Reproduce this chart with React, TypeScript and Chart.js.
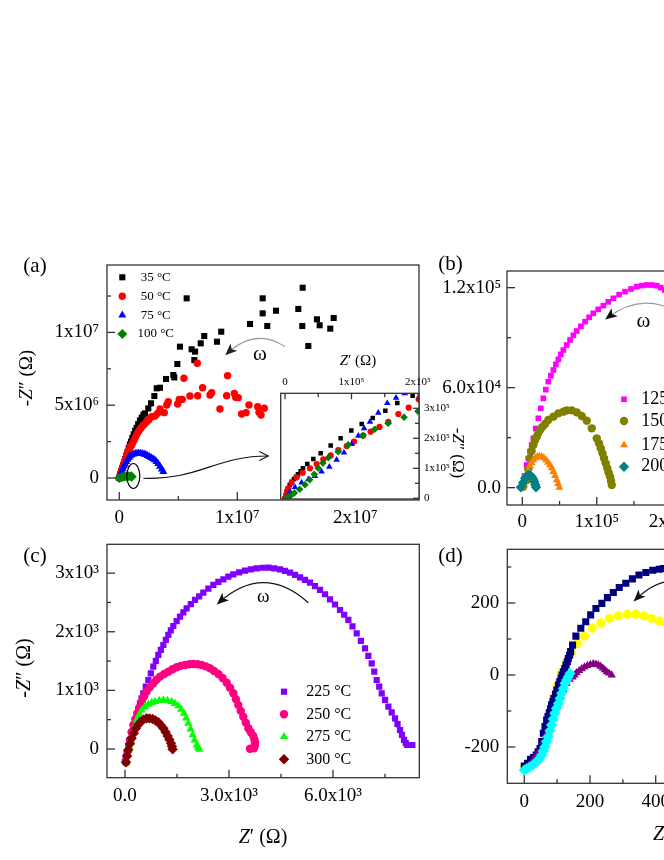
import { useEffect, useRef } from "react";
import { Chart, registerables } from "chart.js";
import { drawPoint } from "chart.js/helpers";

Chart.register(...registerables);

type P = [number, number];
const FONT = '"Liberation Serif", "Times New Roman", serif';

// ---------- (a) main plot, Ω ----------
const a35: P[] = [[0, 0], [0.05e6, 0.15e6], [0.1e6, 0.3e6], [0.18e6, 0.5e6], [0.25e6, 0.7e6], [0.33e6, 0.9e6], [0.42e6, 1.1e6], [0.5e6, 1.3e6], [0.6e6, 1.55e6], [0.7e6, 1.8e6], [0.8e6, 2.05e6], [0.9e6, 2.3e6], [1.0e6, 2.5e6], [1.1e6, 2.75e6], [1.22e6, 3.0e6], [1.35e6, 3.25e6], [1.47e6, 3.45e6], [1.6e6, 3.7e6], [1.75e6, 3.95e6], [1.9e6, 4.15e6], [2.05e6, 4.35e6], [2.18e6, 4.44e6], [2.46e6, 4.78e6], [2.69e6, 5.13e6], [2.97e6, 5.63e6], [3.17e6, 6.16e6], [3.45e6, 6.2e6], [3.96e6, 6.8e6], [4.58e6, 7.07e6], [4.66e6, 6.91e6], [4.92e6, 7.83e6], [5.14e6, 9.02e6], [5.71e6, 12.34e6], [6.13e6, 8.84e6], [6.42e6, 8.68e6], [6.36e6, 8.1e6], [6.9e6, 9.25e6], [7.2e6, 9.75e6], [8.28e6, 9.36e6], [8.64e6, 10.05e6], [11.08e6, 10.58e6], [12.15e6, 12.34e6], [12.15e6, 11.31e6], [12.54e6, 10.44e6], [13.28e6, 11.49e6], [15.17e6, 11.61e6], [15.54e6, 13.07e6], [15.51e6, 10.44e6], [16.02e6, 9.07e6], [16.75e6, 10.9e6], [16.98e6, 10.49e6], [17.88e6, 10.26e6], [18.17e6, 10.99e6]];
const a50: P[] = [[0, 0], [0.05e6, 0.12e6], [0.12e6, 0.3e6], [0.2e6, 0.5e6], [0.28e6, 0.7e6], [0.36e6, 0.9e6], [0.45e6, 1.1e6], [0.55e6, 1.35e6], [0.65e6, 1.6e6], [0.75e6, 1.8e6], [0.85e6, 2.0e6], [0.95e6, 2.15e6], [1.05e6, 2.27e6], [1.15e6, 2.45e6], [1.28e6, 2.65e6], [1.4e6, 2.85e6], [1.52e6, 3.05e6], [1.65e6, 3.22e6], [1.8e6, 3.4e6], [1.95e6, 3.55e6], [2.1e6, 3.68e6], [2.3e6, 3.85e6], [2.5e6, 4.0e6], [2.74e6, 4.21e6], [3.03e6, 4.26e6], [3.25e6, 4.44e6], [3.45e6, 4.74e6], [3.81e6, 4.49e6], [4.02e6, 5.01e6], [4.15e6, 5.24e6], [4.95e6, 5.08e6], [5.08e6, 5.4e6], [5.34e6, 5.4e6], [5.48e6, 6.85e6], [5.99e6, 5.63e6], [6.61e6, 7.88e6], [6.64e6, 5.65e6], [7.06e6, 6.2e6], [7.69e6, 5.7e6], [7.83e6, 5.86e6], [8.53e6, 4.74e6], [9.1e6, 5.65e6], [9.18e6, 7.03e6], [9.75e6, 5.81e6], [9.86e6, 5.54e6], [10.08e6, 5.52e6], [10.37e6, 4.4e6], [10.74e6, 4.49e6], [10.99e6, 5.01e6], [11.73e6, 4.9e6], [11.84e6, 4.51e6], [12.01e6, 4.33e6], [12.29e6, 4.79e6]];
const a75: P[] = [[0, 0], [0.1e6, 0.2e6], [0.2e6, 0.45e6], [0.3e6, 0.65e6], [0.4e6, 0.82e6], [0.5e6, 0.95e6], [0.6e6, 1.12e6], [0.7e6, 1.28e6], [0.8e6, 1.4e6], [0.91e6, 1.5e6], [1.05e6, 1.58e6], [1.2e6, 1.64e6], [1.35e6, 1.68e6], [1.5e6, 1.7e6], [1.65e6, 1.71e6], [1.8e6, 1.7e6], [1.95e6, 1.68e6], [2.1e6, 1.64e6], [2.25e6, 1.6e6], [2.4e6, 1.54e6], [2.55e6, 1.47e6], [2.7e6, 1.4e6], [2.85e6, 1.32e6], [3.0e6, 1.24e6], [3.15e6, 1.12e6], [3.3e6, 0.98e6], [3.45e6, 0.8e6], [3.6e6, 0.6e6], [3.73e6, 0.44e6]];
const a100: P[] = [[0, 0], [0.2e6, 0.05e6], [0.4e6, 0.08e6], [0.6e6, 0.1e6], [0.8e6, 0.12e6], [1.0e6, 0.12e6], [1.05e6, 0.09e6]];

// ---------- (a) inset, Ω ----------
const i35: P[] = [[0, 0], [1e3, 10e3], [2e3, 22e3], [4e3, 33e3], [7e3, 44e3], [10e3, 55e3], [13.5e3, 64e3], [16.5e3, 72e3], [19.5e3, 80e3], [23.6e3, 90e3], [27e3, 100e3], [33.5e3, 114e3], [42.6e3, 131e3], [53.6e3, 150e3], [68.7e3, 176e3], [83.7e3, 200e3], [99.7e3, 226e3], [115.3e3, 248e3], [131.9e3, 268e3], [150.9e3, 292e3], [168.9e3, 318e3], [192e3, 342e3], [205e3, 352e3]];
const i50: P[] = [[0, 0], [1.5e3, 5e3], [3e3, 20e3], [5e3, 33e3], [10e3, 52e3], [17.6e3, 70e3], [26.6e3, 85e3], [37.6e3, 100e3], [47.6e3, 114e3], [57.6e3, 130e3], [68.7e3, 143e3], [80.2e3, 161e3], [92.8e3, 174e3], [103.8e3, 189e3], [117.8e3, 209e3], [128.8e3, 222e3], [142e3, 238e3], [155.4e3, 255e3], [170.4e3, 281e3], [186e3, 302e3], [201e3, 330e3]];
const i75: P[] = [[2.5e3, 3e3], [7.5e3, 22e3], [15e3, 37e3], [25e3, 52e3], [35e3, 63e3], [45e3, 74e3], [55e3, 89e3], [66.7e3, 105e3], [77.7e3, 128e3], [88.7e3, 152e3], [100.3e3, 181e3], [110.3e3, 208e3], [119e3, 233e3], [127.8e3, 255e3], [140.3e3, 285e3], [153.8e3, 317e3], [167e3, 335e3], [180e3, 350e3]];
const i100: P[] = [[3e3, 2e3], [8e3, 8e3], [14e3, 18e3], [22e3, 30e3], [30e3, 45e3], [37e3, 62e3], [44e3, 80e3], [50e3, 100e3], [57e3, 118e3], [65e3, 135e3], [80e3, 155e3], [95e3, 178e3], [117e3, 209e3], [135e3, 230e3], [155e3, 250e3], [179e3, 270e3], [200e3, 290e3]];

// ---------- (b), Ω ----------
const b125: P[] = [[0, 0], [3e3, 7e3], [5.9e3, 13.6e3], [8e3, 17.5e3], [10.3e3, 21.6e3], [12.5e3, 25.6e3], [14.8e3, 29.6e3], [18e3, 35.5e3], [21.5e3, 41.6e3], [24.8e3, 47.6e3], [28.2e3, 53.6e3], [31.5e3, 58.8e3], [34.9e3, 63.6e3], [38.3e3, 67.2e3], [41.7e3, 70.6e3], [45e3, 74e3], [48.4e3, 77e3], [51.7e3, 80e3], [55.1e3, 82.6e3], [59.6e3, 85.6e3], [64.1e3, 88.6e3], [68.6e3, 91.4e3], [73.1e3, 94e3], [78.7e3, 96.8e3], [84.3e3, 99.6e3], [89.8e3, 102.2e3], [95.4e3, 104.6e3], [102e3, 107e3], [108.9e3, 109.2e3], [115.5e3, 111.5e3], [122.3e3, 113.6e3], [130e3, 115.8e3], [138e3, 117.6e3], [146e3, 119.2e3], [153.8e3, 120.6e3], [160.5e3, 121.2e3], [167.2e3, 121.6e3], [174e3, 121.6e3], [180.6e3, 121.2e3], [186e3, 120e3], [191.5e3, 118.6e3], [197e3, 117e3], [202e3, 115e3]];
const b150: P[] = [[1.3e3, 0.6e3], [5.9e3, 4.6e3], [8e3, 11e3], [10.3e3, 17.6e3], [12.5e3, 22e3], [14.8e3, 25.6e3], [17e3, 28.5e3], [19.4e3, 30.6e3], [21.5e3, 32.8e3], [23.8e3, 34.6e3], [27e3, 36.5e3], [30.5e3, 38.2e3], [34.9e3, 40.6e3], [41.7e3, 42.6e3], [48.4e3, 44.6e3], [55.1e3, 45.6e3], [59.7e3, 46.4e3], [66.4e3, 46.4e3], [73.1e3, 45.2e3], [79.8e3, 43e3], [86.6e3, 40.2e3], [93.3e3, 35.6e3], [100e3, 29.6e3], [103e3, 26.6e3], [105.4e3, 23.6e3], [107.7e3, 20.6e3], [109.8e3, 17.6e3], [112e3, 14.6e3], [114.2e3, 11.6e3], [116e3, 9e3], [117.9e3, 6.6e3], [119.2e3, 4e3], [120.2e3, 1.6e3]];
const b175: P[] = [[1.3e3, 0.2e3], [3.5e3, 3.5e3], [5.9e3, 6.6e3], [8e3, 10e3], [10.3e3, 13e3], [12.5e3, 15e3], [14.8e3, 16.6e3], [17.5e3, 17.8e3], [20.2e3, 18.6e3], [23e3, 18.8e3], [26.1e3, 18.6e3], [29e3, 17.8e3], [31.9e3, 16.6e3], [34.5e3, 15.2e3], [37.2e3, 13.6e3], [39.5e3, 11.8e3], [41.7e3, 9.6e3], [44e3, 7.2e3], [46.2e3, 4.6e3], [48e3, 2.4e3], [49.7e3, 0.2e3]];
const b200: P[] = [[-2e3, 0.2e3], [1e3, 3e3], [3.6e3, 5.6e3], [5.8e3, 7e3], [8.1e3, 7.6e3], [10.3e3, 7.4e3], [12.6e3, 6.6e3], [14.5e3, 5.2e3], [16.1e3, 3.6e3], [17.5e3, 1.8e3], [18.4e3, 0.2e3]];

// ---------- (c), Ω ----------
const c225: P[] = [[0, -217], [25, -140], [48, -74], [95, 40], [144, 154], [190, 268], [240, 381], [290, 480], [337, 580], [385, 680], [433, 780], [480, 865], [529, 950], [600, 1065], [673, 1177], [745, 1290], [817, 1404], [890, 1505], [962, 1604], [1034, 1690], [1106, 1774], [1178, 1860], [1250, 1945], [1322, 2022], [1394, 2098], [1490, 2180], [1587, 2257], [1683, 2330], [1779, 2400], [1900, 2472], [2020, 2542], [2140, 2605], [2260, 2667], [2405, 2735], [2549, 2798], [2693, 2850], [2837, 2895], [2981, 2940], [3125, 2980], [3294, 3013], [3462, 3042], [3630, 3065], [3798, 3083], [3966, 3092], [4135, 3093], [4303, 3082], [4471, 3066], [4615, 3040], [4760, 3008], [4905, 2970], [5049, 2929], [5193, 2885], [5337, 2837], [5481, 2778], [5626, 2713], [5770, 2640], [5914, 2554], [6058, 2465], [6203, 2371], [6323, 2290], [6443, 2201], [6563, 2090], [6684, 1974], [6804, 1846], [6924, 1718], [7020, 1590], [7117, 1462], [7190, 1320], [7261, 1177], [7334, 1063], [7406, 950], [7502, 836], [7598, 722], [7694, 623], [7790, 524], [7862, 424], [7934, 324], [7990, 240], [8049, 154], [8100, 100], [8145, 68], [8217, 68], [8289, 68]];
const c250: P[] = [[29, -227], [80, -40], [144, 154], [190, 290], [240, 409], [300, 510], [356, 609], [420, 710], [481, 807], [550, 895], [626, 978], [720, 1055], [817, 1121], [910, 1180], [1010, 1234], [1130, 1280], [1250, 1319], [1370, 1360], [1491, 1394], [1610, 1418], [1731, 1433], [1850, 1445], [1971, 1450], [2090, 1445], [2212, 1433], [2330, 1410], [2452, 1377], [2570, 1332], [2693, 1280], [2815, 1210], [2934, 1131], [3030, 1045], [3125, 950], [3200, 850], [3269, 751], [3340, 650], [3413, 551], [3485, 450], [3558, 353], [3630, 285], [3702, 222], [3735, 160], [3750, 108], [3745, 55], [3721, 12], [3606, 5]];
const c275: P[] = [[29, -227], [70, -100], [125, 39], [170, 150], [221, 268], [280, 385], [337, 495], [410, 585], [481, 665], [570, 720], [673, 762], [770, 790], [865, 807], [985, 825], [1106, 836], [1226, 828], [1346, 807], [1440, 775], [1539, 734], [1620, 675], [1702, 609], [1765, 525], [1827, 438], [1890, 340], [1952, 239], [2010, 150], [2068, 68], [2110, 25], [2144, -5]];
const c300: P[] = [[29, -227], [60, -120], [96, -17], [144, 90], [192, 183], [255, 270], [317, 353], [385, 415], [452, 466], [540, 505], [626, 524], [712, 522], [798, 512], [880, 487], [962, 455], [1034, 405], [1106, 353], [1170, 290], [1231, 222], [1280, 160], [1327, 97], [1355, 45], [1375, -5]];

// ---------- (d), Ω ----------
const dNavy: P[] = [[0, -253], [10, -245], [19, -234], [28, -229], [36, -222], [42, -213], [48, -204], [53, -185], [58, -162], [63, -143], [68, -125], [72, -115], [76, -105], [80, -94], [83, -83], [87, -74], [90, -65], [95, -53], [99, -42], [104, -28], [108, -18], [112, -9], [115, 0], [119, 9], [123, 18], [127, 28], [131, 37], [134, 46], [138, 55], [141, 65], [147, 83], [157, 108], [172, 130], [187, 148], [202, 167], [218, 185], [236, 199], [253, 215], [271, 229], [289, 243], [309, 255], [329, 267], [349, 278], [370, 285], [391, 291], [411, 294], [423, 296], [445, 299], [470, 300]];
const dYellow: P[] = [[0, -255], [15, -250], [30, -235], [45, -215], [58, -181], [70, -144], [80, -102], [90, -60], [100, -30], [112, 5], [127, 33], [144, 61], [162, 87], [183, 108], [207, 130], [233, 145], [259, 157], [286, 164], [314, 169], [340, 169], [365, 164], [388, 157], [411, 150], [435, 140], [455, 128]];
const dPurple: P[] = [[2, -259], [15, -250], [27, -236], [38, -222], [48, -208], [58, -185], [68, -162], [78, -134], [88, -106], [98, -83], [109, -60], [119, -40], [129, -23], [138, -12], [147, -6], [153, 0], [159, 6], [167, 12], [175, 17], [183, 22], [192, 26], [201, 29], [210, 31], [218, 30], [225, 28], [232, 24], [239, 19], [245, 14], [251, 9], [258, 5], [266, 0]];
const dCyan: P[] = [[0, -264], [8, -260], [17, -255], [27, -249], [38, -241], [46, -232], [53, -222], [58, -211], [63, -199], [68, -185], [73, -171], [78, -155], [83, -139], [88, -122], [93, -106], [98, -92], [104, -79], [109, -65], [114, -51], [119, -37], [124, -23], [129, -14], [134, -5], [139, 4]];

// ---------- tick values and labels ----------
const aXTicks = [0, 1e7, 2e7];
const aXLabels = ["0", "1x10⁷", "2x10⁷"];
const aXMinor = [5e6, 1.5e7];
const aYTicks = [0, 5e6, 1e7];
const aYLabels = ["0", "5x10⁶", "1x10⁷"];
const aYMinor = [2.5e6, 7.5e6, 1.25e7];

const iXTicks = [0, 1e5, 2e5];
const iXLabels = ["0", "1x10⁵", "2x10⁵"];
const iXMinor = [5e4, 1.5e5];
const iYTicks = [0, 1e5, 2e5, 3e5];
const iYLabels = ["0", "1x10⁵", "2x10⁵", "3x10⁵"];
const iYMinor = [5e4, 1.5e5, 2.5e5];

const bXTicks = [0, 1e5, 2e5, 3e5];
const bXLabels = ["0", "1x10⁵", "2x10⁵", "3x10⁵"];
const bXMinor = [5e4, 1.5e5, 2.5e5, 3.5e5];
const bYTicks = [0, 6e4, 1.2e5];
const bYLabels = ["0.0", "6.0x10⁴", "1.2x10⁵"];
const bYMinor = [3e4, 9e4];

const cXTicks = [0, 3e3, 6e3];
const cXLabels = ["0.0", "3.0x10³", "6.0x10³"];
const cXMinor = [1.5e3, 4.5e3, 7.5e3];
const cYTicks = [0, 1e3, 2e3, 3e3];
const cYLabels = ["0", "1x10³", "2x10³", "3x10³"];
const cYMinor = [500, 1500, 2500];

const dXTicks = [0, 200, 400, 600, 800];
const dXLabels = ["0", "200", "400", "600", "800"];
const dXMinor = [100, 300, 500, 700];
const dYTicks = [-200, 0, 200];
const dYLabels = ["-200", "0", "200"];
const dYMinor = [-100, 100, 300];

// ---------- helpers ----------
const panelPlugin = {
  id: "panel",
  beforeDraw(chart: any, _a: any, o: any) {
    if (!o.fill) return;
    const { ctx, chartArea: c } = chart;
    ctx.save();
    ctx.fillStyle = "#fff";
    ctx.fillRect(c.left, c.top, c.right - c.left, c.bottom - c.top);
    ctx.restore();
  },
  afterDatasetsDraw(chart: any, _a: any, o: any) {
    const { ctx, chartArea: c, scales } = chart;
    const xs = scales.x;
    const ys = scales.y;
    const px = (p: P) => [xs.getPixelForValue(p[0]), ys.getPixelForValue(p[1])];
    ctx.save();
    ctx.strokeStyle = "#333";
    ctx.lineWidth = 1.3;
    ctx.strokeRect(c.left, c.top, c.right - c.left, c.bottom - c.top);

    const tick = (vals: number[], len: number, isX: boolean) => {
      for (const v of vals) {
        ctx.beginPath();
        if (isX) {
          if (v < xs.min || v > xs.max) continue;
          const x = xs.getPixelForValue(v);
          const y0 = o.xTop ? c.top : c.bottom;
          ctx.moveTo(x, y0);
          ctx.lineTo(x, y0 + (o.xTop ? len : -len));
        } else {
          if (v < ys.min || v > ys.max) continue;
          const y = ys.getPixelForValue(v);
          const x0 = o.yRight ? c.right : c.left;
          ctx.moveTo(x0, y);
          ctx.lineTo(x0 + (o.yRight ? -len : len), y);
        }
        ctx.stroke();
      }
    };
    tick(o.xMajor, o.major, true);
    tick(o.xMinor, o.minor, true);
    tick(o.yMajor, o.major, false);
    tick(o.yMinor, o.minor, false);

    for (const e of o.ellipses || []) {
      const [x, y] = px(e.at);
      ctx.strokeStyle = "#000";
      ctx.lineWidth = 1.2;
      ctx.beginPath();
      ctx.ellipse(x, y, e.rx, e.ry, 0, 0, Math.PI * 2);
      ctx.stroke();
    }

    for (const a of o.arrows || []) {
      const [x0, y0] = px(a.from);
      const [x3, y3] = px(a.to);
      ctx.strokeStyle = a.color;
      ctx.lineWidth = a.width;
      ctx.beginPath();
      ctx.moveTo(x0, y0);
      let tx: number, ty: number;
      if (a.ctrl) {
        const [cx, cy] = px(a.ctrl);
        ctx.quadraticCurveTo(cx, cy, x3, y3);
        tx = cx; ty = cy;
      } else {
        const [x1, y1] = px(a.c1);
        const [x2, y2] = px(a.c2);
        ctx.bezierCurveTo(x1, y1, x2, y2, x3, y3);
        tx = x2; ty = y2;
      }
      ctx.stroke();
      const ang = Math.atan2(y3 - ty, x3 - tx);
      ctx.save();
      ctx.translate(x3, y3);
      ctx.rotate(ang);
      ctx.fillStyle = a.head;
      ctx.strokeStyle = a.head;
      ctx.beginPath();
      if (a.open) {
        ctx.moveTo(-9, -4.5);
        ctx.lineTo(0, 0);
        ctx.lineTo(-9, 4.5);
        ctx.stroke();
      } else {
        ctx.moveTo(2, 0);
        ctx.lineTo(-10, -5);
        ctx.lineTo(-7, 0);
        ctx.lineTo(-10, 5);
        ctx.closePath();
        ctx.fill();
      }
      ctx.restore();
    }

    for (const t of o.texts || []) {
      const [x, y] = px(t.at);
      ctx.fillStyle = "#000";
      ctx.font = `${t.size}px ${FONT}`;
      ctx.textAlign = "center";
      ctx.textBaseline = "middle";
      ctx.fillText(t.text, x, y);
    }

    if (o.legend) {
      const L = o.legend;
      chart.data.datasets.forEach((d: any, i: number) => {
        const y = c.top + L.rows[i];
        ctx.fillStyle = d.pointBackgroundColor;
        drawPoint(ctx, { pointStyle: d.pointStyle, radius: d.pointRadius, rotation: 0, borderWidth: 0 } as any, c.left + L.x, y);
        ctx.fillStyle = "#000";
        ctx.font = `${L.font}px ${FONT}`;
        ctx.textAlign = "center";
        ctx.textBaseline = "middle";
        ctx.fillText(d.label, c.left + L.tx, y);
      });
    }
    ctx.restore();
  },
};

function axis(pos: string, min: number, max: number, ticks: number[], labels: string[], size: number, pad: number, font: number) {
  const vertical = pos === "left" || pos === "right";
  return {
    type: "linear",
    position: pos,
    min,
    max,
    bounds: "data",
    grid: { display: false, drawTicks: false },
    border: { display: false },
    afterBuildTicks: (s: any) => {
      s.ticks = ticks.map((value) => ({ value }));
    },
    afterFit: (s: any) => {
      if (vertical) s.width = size;
      else s.height = size;
    },
    ticks: {
      autoSkip: false,
      maxRotation: 0,
      minRotation: 0,
      padding: pad,
      color: "#000",
      font: { family: FONT, size: font },
      callback: (_v: any, i: number) => labels[i],
    },
  };
}

function series(label: string, pts: P[], style: string, color: string, r: number, order: number) {
  return {
    label,
    data: pts.map(([x, y]) => ({ x, y })),
    pointStyle: style,
    pointRadius: r,
    pointBackgroundColor: color,
    pointBorderColor: color,
    pointBorderWidth: 0,
    backgroundColor: color,
    borderColor: color,
    showLine: false,
    order,
  };
}

function config(datasets: any[], x: any, y: any, padding: any, panel: any) {
  return {
    type: "scatter",
    data: { datasets },
    options: {
      animation: false,
      responsive: false,
      events: [],
      layout: { padding },
      scales: { x, y },
      plugins: { legend: { display: false }, tooltip: { enabled: false }, panel },
    },
    plugins: [panelPlugin],
  };
}

const makeA = () =>
  config(
    [
      series("35 °C", a35, "rect", "#000000", 4.3, 4),
      series("50 °C", a50, "circle", "#ff0000", 3.7, 3),
      series("75 °C", a75, "triangle", "#0000ff", 4.6, 2),
      series("100 °C", a100, "rectRot", "#008000", 5, 1),
    ],
    axis("bottom", -1.042e6, 2.54e7, aXTicks, aXLabels, 45, 7, 19),
    axis("left", -1.511e6, 1.463e7, aYTicks, aYLabels, 67, 8, 19),
    { top: 24, right: 11, left: 0, bottom: 0 },
    {
      xMajor: aXTicks, xMinor: aXMinor, yMajor: aYTicks, yMinor: aYMinor, major: 8, minor: 4,
      legend: { x: 15.3, rows: [12.3, 31.2, 50.1, 69], tx: 48.7, font: 13 },
      arrows: [
        { from: [1.404e7, 9.02e6], ctrl: [1.15e7, 1.037e7], to: [9.1e6, 8.52e6], color: "#999", head: "#222", width: 1.1 },
        { from: [2.03e6, -2e4], c1: [6.84e6, -1.37e5], c2: [8.11e6, 1.51e6], to: [1.263e7, 1.51e6], color: "#111", head: "#111", width: 1.1, open: true },
      ],
      texts: [{ at: [1.192e7, 8.45e6], text: "ω", size: 21 }],
      ellipses: [{ at: [1.19e6, 1.37e5], rx: 6.5, ry: 12.5 }],
    }
  );

const makeInset = () =>
  config(
    [
      series("35 °C", i35, "rect", "#000000", 3.2, 4),
      series("50 °C", i50, "circle", "#ff0000", 3.1, 3),
      series("75 °C", i75, "triangle", "#0000ff", 3.8, 2),
      series("100 °C", i100, "rectRot", "#008000", 3.8, 1),
    ],
    axis("top", -6.47e3, 201.5e3, iXTicks, iXLabels, 43.3, 5, 11),
    axis("right", -2.3e3, 350e3, iYTicks, iYLabels, 43, 5, 11),
    { top: 0, right: 0, left: 18.7, bottom: 16 },
    { fill: true, xTop: true, yRight: true, xMajor: iXTicks, xMinor: iXMinor, yMajor: iYTicks, yMinor: iYMinor, major: 6, minor: 4 }
  );

const makeB = () =>
  config(
    [
      series("125 °C", b125, "rect", "#ff00ff", 4, 4),
      series("150 °C", b150, "circle", "#808000", 4.2, 3),
      series("175 °C", b175, "triangle", "#ff8000", 4.6, 2),
      series("200 °C", b200, "rectRot", "#008080", 5.2, 1),
    ],
    axis("bottom", -20.6e3, 400e3, bXTicks, bXLabels, 55, 6, 19),
    axis("left", -10.4e3, 130e3, bYTicks, bYLabels, 67, 6, 19),
    { top: 24, right: 20, left: 0, bottom: 0 },
    {
      xMajor: bXTicks, xMinor: bXMinor, yMajor: bYTicks, yMinor: bYMinor, major: 8, minor: 4,
      legend: { x: 117, rows: [128.3, 150, 174, 195.7], tx: 159.5, font: 18 },
      arrows: [{ from: [209e3, 105e3], ctrl: [160.9e3, 118e3], to: [113.4e3, 101.6e3], color: "#999", head: "#111", width: 1.1 }],
      texts: [{ at: [162.6e3, 99.6e3], text: "ω", size: 21 }],
    }
  );

const makeC = () =>
  config(
    [
      series("225 °C", c225, "rect", "#8000ff", 4.4, 4),
      series("250 °C", c250, "circle", "#ff0080", 4.2, 3),
      series("275 °C", c275, "triangle", "#00ff00", 4.8, 2),
      series("300 °C", c300, "rectRot", "#800000", 5.2, 1),
    ],
    axis("bottom", -519, 8490, cXTicks, cXLabels, 46.3, 7, 19),
    axis("left", -490, 3492, cYTicks, cYLabels, 67, 8, 19),
    { top: 24.3, right: 10.7, left: 0, bottom: 0 },
    {
      xMajor: cXTicks, xMinor: cXMinor, yMajor: cYTicks, yMinor: cYMinor, major: 8, minor: 4,
      legend: { x: 177, rows: [147.4, 170, 192.4, 215], tx: 221.7, font: 16 },
      arrows: [{ from: [5288, 2496], ctrl: [3981, 3183], to: [2692, 2486], color: "#111", head: "#111", width: 1.2 }],
      texts: [{ at: [3990, 2598], text: "ω", size: 19 }],
    }
  );

const makeD = () =>
  config(
    [
      series("yellow", dYellow, "circle", "#ffff00", 4.6, 4),
      series("navy", dNavy, "rect", "#000080", 5, 3),
      series("purple", dPurple, "triangle", "#800080", 4.8, 2),
      series("cyan", dCyan, "rectRot", "#00ffff", 5.6, 1),
    ],
    axis("bottom", -51.7, 900, dXTicks, dXLabels, 56.7, 7, 19),
    axis("left", -300.8, 349.2, dYTicks, dYLabels, 67.3, 8, 19),
    { top: 24.3, right: 20, left: 0, bottom: 0 },
    {
      xMajor: dXTicks, xMinor: dXMinor, yMajor: dYTicks, yMinor: dYMinor, major: 8, minor: 4,
      arrows: [{ from: [596, 203], ctrl: [459, 319], to: [337, 208], color: "#111", head: "#111", width: 1.2 }],
      texts: [{ at: [474, 208], text: "ω", size: 20 }],
    }
  );

function ChartCanvas({ make, left, top, width, height }: { make: () => any; left: number; top: number; width: number; height: number }) {
  const ref = useRef<HTMLCanvasElement>(null);
  useEffect(() => {
    if (!ref.current) return;
    const chart = new Chart(ref.current, make());
    return () => chart.destroy();
  }, [make]);
  return <canvas ref={ref} width={width} height={height} style={{ position: "absolute", left, top, width, height }} />;
}

function Txt({ x, y, size, rot = 0, left = false, children }: { x: number; y: number; size: number; rot?: number; left?: boolean; children: any }) {
  return (
    <div
      style={{
        position: "absolute",
        left: x,
        top: y,
        transform: `translate(${left ? "0" : "-50%"},-50%) rotate(${rot}deg)`,
        fontFamily: FONT,
        fontSize: size,
        lineHeight: 1,
        whiteSpace: "nowrap",
        color: "#000",
      }}
    >
      {children}
    </div>
  );
}

const ZIm = () => (
  <>
    -<i>Z</i>″ (Ω)
  </>
);
const ZRe = () => (
  <>
    <i>Z</i>′ (Ω)
  </>
);

export default function App() {
  return (
    <div style={{ position: "absolute", left: 0, top: 0, width: 664, height: 860, overflow: "hidden", background: "#fff" }}>
      <ChartCanvas make={makeA} left={40} top={241} width={390} height={304} />
      <ChartCanvas make={makeInset} left={262} top={350} width={200} height={165} />
      <ChartCanvas make={makeB} left={440} top={247} width={400} height={313} />
      <ChartCanvas make={makeC} left={40} top={520} width={390} height={304} />
      <ChartCanvas make={makeD} left={440} top={525} width={400} height={315} />

      <Txt x={35} y={264.5} size={21}>(a)</Txt>
      <Txt x={450.5} y={263.3} size={21}>(b)</Txt>
      <Txt x={35} y={555} size={21}>(c)</Txt>
      <Txt x={450.5} y={555} size={21}>(d)</Txt>

      <Txt x={25} y={378} size={19} rot={-90}><ZIm /></Txt>
      <Txt x={22.5} y={668} size={20} rot={-90}><ZIm /></Txt>
      <Txt x={458} y={453} size={17} rot={90}><ZIm /></Txt>

      <Txt x={358} y={360} size={15}><ZRe /></Txt>
      <Txt x={263} y={836} size={20}><ZRe /></Txt>
      <Txt x={653} y={833} size={20} left><ZRe /></Txt>
    </div>
  );
}
